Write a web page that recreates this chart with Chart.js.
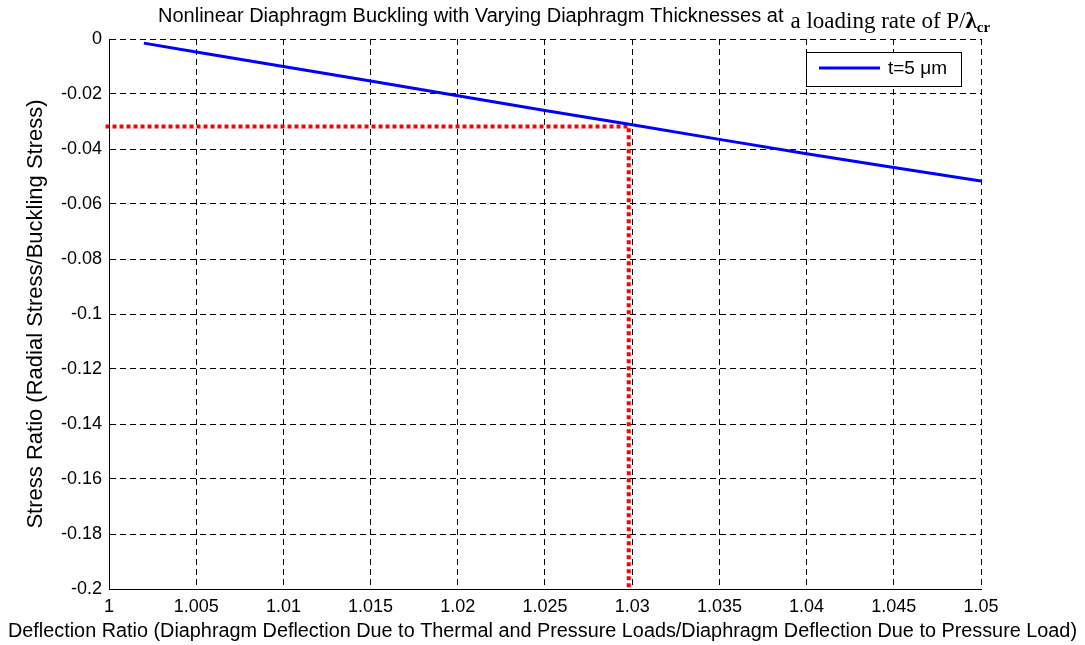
<!DOCTYPE html>
<html>
<head>
<meta charset="utf-8">
<script src="https://cdn.jsdelivr.net/npm/chart.js@4/dist/chart.umd.min.js"></script>
<style>
  html, body { margin: 0; padding: 0; background: #fff; }
  #wrap { width: 1085px; height: 645px; position: relative; }
</style>
</head>
<body>
<div id="wrap"><canvas id="c" width="1085" height="645"></canvas></div>
<script>
// ---- Data ----
const deflectionRatio = [1.002, 1.005, 1.010, 1.015, 1.020, 1.025, 1.030, 1.035, 1.040, 1.045, 1.050];
const stressRatio     = [-0.0015, -0.0047, -0.0100, -0.0153, -0.0206, -0.0260, -0.0312, -0.0365, -0.0417, -0.0467, -0.0516];
const markerX = [0.9998, 1.0298, 1.0298];
const markerY = [-0.0318, -0.0318, -0.200];
const seriesLabel = 't=5 \u03BCm';

const xTicks = [1, 1.005, 1.01, 1.015, 1.02, 1.025, 1.03, 1.035, 1.04, 1.045, 1.05];
const xTickLabels = ['1', '1.005', '1.01', '1.015', '1.02', '1.025', '1.03', '1.035', '1.04', '1.045', '1.05'];
const yTicks = [0, -0.02, -0.04, -0.06, -0.08, -0.1, -0.12, -0.14, -0.16, -0.18, -0.2];
const yTickLabels = ['0', '-0.02', '-0.04', '-0.06', '-0.08', '-0.1', '-0.12', '-0.14', '-0.16', '-0.18', '-0.2'];

const titleSans = 'Nonlinear Diaphragm Buckling with Varying Diaphragm Thicknesses at';
const titleSerif = 'a loading rate of P/';
const titleSymbol = '\u03BB';
const titleSub = 'cr';
const xTitle = 'Deflection Ratio (Diaphragm Deflection Due to Thermal and Pressure Loads/Diaphragm Deflection Due to Pressure Load)';
const yTitle = 'Stress Ratio (Radial Stress/Buckling Stress)';

// ---- Rendering ----
const SANS = '"Liberation Sans", Arial, Helvetica, sans-serif';
const SERIF = '"Liberation Serif", "Times New Roman", serif';

const textPlugin = {
  id: 'mixedTitle',
  afterDraw(chart) {
    const ctx = chart.ctx;
    ctx.save();
    ctx.fillStyle = '#000';
    ctx.textBaseline = 'alphabetic';
    ctx.textAlign = 'left';
    ctx.font = '20px ' + SANS;
    ctx.fillText(titleSans, 158, 22);
    let x = 158 + ctx.measureText(titleSans).width + 7;
    ctx.font = '23px ' + SERIF;
    const w1 = ctx.measureText(titleSerif).width;
    ctx.fillText(titleSerif, x, 28);
    x += w1;
    ctx.font = 'bold 23px ' + SERIF;
    const w2 = ctx.measureText(titleSymbol).width;
    ctx.fillText(titleSymbol, x, 28);
    x += w2;
    ctx.font = 'bold 15px ' + SERIF;
    ctx.fillText(titleSub, x, 32);

    // x-axis title (wider than plot area, as in the reference)
    ctx.font = '20px ' + SANS;
    ctx.textAlign = 'center';
    ctx.textBaseline = 'middle';
    ctx.fillText(xTitle, 542.5, 631, 1069);
    ctx.restore();
  }
};

const legendPlugin = {
  id: 'boxLegend',
  afterDatasetsDraw(chart) {
    const ctx = chart.ctx;
    const ds = chart.data.datasets[0];
    const bx = 806.5, by = 52.5, bw = 155, bh = 34;
    ctx.save();
    ctx.fillStyle = '#fff';
    ctx.fillRect(bx, by, bw, bh);
    ctx.strokeStyle = '#000';
    ctx.lineWidth = 1;
    ctx.strokeRect(bx, by, bw, bh);
    ctx.strokeStyle = ds.borderColor;
    ctx.lineWidth = ds.borderWidth;
    ctx.beginPath();
    ctx.moveTo(819, 68);
    ctx.lineTo(880, 68);
    ctx.stroke();
    ctx.fillStyle = '#000';
    ctx.font = '19px ' + SANS;
    ctx.textBaseline = 'middle';
    ctx.textAlign = 'left';
    ctx.fillText(ds.label, 888, 69);
    ctx.restore();
  }
};

const curve = deflectionRatio.map((v, i) => ({ x: v, y: stressRatio[i] }));
const marker = markerX.map((v, i) => ({ x: v, y: markerY[i] }));

new Chart(document.getElementById('c'), {
  type: 'line',
  data: {
    datasets: [
      {
        label: seriesLabel,
        data: curve,
        borderColor: '#0000ff',
        borderWidth: 3,
        pointRadius: 0,
        tension: 0,
        fill: false
      },
      {
        label: 'marker',
        data: marker,
        borderColor: '#ff0000',
        borderWidth: 4,
        borderDash: [4, 3],
        borderCapStyle: 'butt',
        pointRadius: 0,
        tension: 0,
        fill: false,
        clip: 6
      }
    ]
  },
  options: {
    responsive: false,
    animation: false,
    devicePixelRatio: 1,
    layout: { padding: { top: 39, right: 104, left: 0, bottom: 0 } },
    plugins: {
      legend: { display: false },
      title: { display: false },
      tooltip: { enabled: false }
    },
    scales: {
      x: {
        type: 'linear',
        min: 1,
        max: 1.05,
        afterBuildTicks: (s) => { s.ticks = xTicks.map(v => ({ value: v })); },
        afterFit: (s) => { s.height = 56; },
        ticks: {
          callback: (v, i) => xTickLabels[i],
          color: '#000',
          padding: 7,
          maxRotation: 0,
          autoSkip: false,
          font: { family: SANS, size: 18 }
        },
        grid: { color: '#000', lineWidth: 1, drawTicks: false },
        border: { display: true, color: '#000', width: 1, dash: [6, 4] },
        title: { display: false }
      },
      y: {
        type: 'linear',
        min: -0.2,
        max: 0,
        afterBuildTicks: (s) => { s.ticks = yTicks.map(v => ({ value: v })); },
        afterFit: (s) => { s.width = 109; },
        ticks: {
          callback: (v, i) => yTickLabels[i],
          color: '#000',
          padding: 7,
          autoSkip: false,
          font: { family: SANS, size: 18 }
        },
        grid: { color: '#000', lineWidth: 1, drawTicks: false },
        border: { display: true, color: '#000', width: 1, dash: [6, 4] },
        title: {
          display: true,
          text: yTitle,
          color: '#000',
          font: { family: SANS, size: 22 },
          padding: { top: 23, bottom: 0 }
        }
      }
    }
  },
  plugins: [textPlugin, legendPlugin]
});
</script>
</body>
</html>
